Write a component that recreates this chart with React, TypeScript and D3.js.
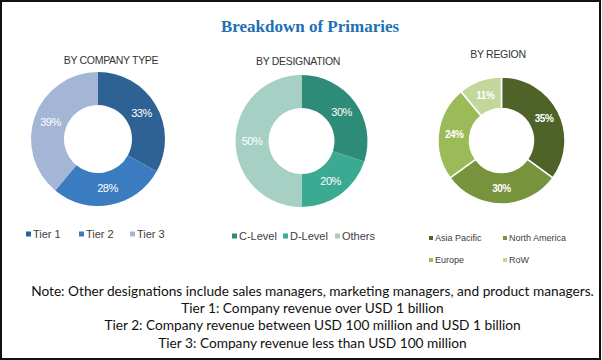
import React, { useEffect, useRef } from 'react';
import * as d3 from 'd3';

const companyTypes = ['Tier 1', 'Tier 2', 'Tier 3'];
const companyShares = [33, 28, 39];
const companyColors = ['#2e6194', '#3b7bbf', '#a3b6d6'];

const designations = ['C-Level', 'D-Level', 'Others'];
const designationShares = [30, 20, 50];
const designationColors = ['#2e8b78', '#3baa93', '#a7d0c5'];

const regions = ['Asia Pacific', 'North America', 'Europe', 'RoW'];
const regionShares = [35, 30, 24, 11];
const regionColors = ['#4f6228', '#77933c', '#9bbb59', '#c3d69b'];

const noteLines = [
  'Note: Other designations include sales managers, marketing managers, and product managers.',
  'Tier 1: Company revenue over USD 1 billion',
  'Tier 2: Company revenue between USD 100 million and USD 1 billion',
  'Tier 3: Company revenue less than USD 100 million',
];

const W = 602;
const H = 360;

const App = () => {
  const ref = useRef(null);

  useEffect(() => {
    const svg = d3.select(ref.current);
    svg.selectAll('*').remove();

    svg
      .append('rect')
      .attr('x', 1)
      .attr('y', 1)
      .attr('width', W - 3)
      .attr('height', H - 2)
      .attr('fill', '#fff')
      .attr('stroke', '#111')
      .attr('stroke-width', 2);

    svg
      .append('text')
      .attr('x', 310)
      .attr('y', 32)
      .attr('text-anchor', 'middle')
      .attr('font-family', '"Liberation Serif", serif')
      .attr('font-weight', 'bold')
      .attr('font-size', 17)
      .attr('fill', '#2170b4')
      .text('Breakdown of Primaries');

    const pies = [
      {
        title: 'BY COMPANY TYPE', tx: 111, ty: 64, cx: 98, cy: 139, r: 67, ir: 34,
        names: companyTypes, values: companyShares, colors: companyColors,
        bold: false, sep: false,
      },
      {
        title: 'BY DESIGNATION', tx: 298, ty: 65, cx: 301.5, cy: 141, r: 66, ir: 33,
        names: designations, values: designationShares, colors: designationColors,
        bold: false, sep: false,
      },
      {
        title: 'BY REGION', tx: 498, ty: 58, cx: 501.5, cy: 140.5, r: 63.5, ir: 32,
        names: regions, values: regionShares, colors: regionColors,
        bold: true, sep: true,
      },
    ];

    pies.forEach((p) => {
      svg
        .append('text')
        .attr('x', p.tx)
        .attr('y', p.ty)
        .attr('text-anchor', 'middle')
        .attr('font-family', '"Liberation Sans", Arial, sans-serif')
        .attr('font-size', 10.5)
        .attr('letter-spacing', -0.3)
        .attr('fill', '#333')
        .text(p.title);

      const pie = d3.pie().sort(null).value((d) => d);
      const arc = d3.arc().innerRadius(p.ir).outerRadius(p.r);
      const g = svg.append('g').attr('transform', `translate(${p.cx},${p.cy})`);
      const arcs = pie(p.values);

      g.selectAll('path')
        .data(arcs)
        .enter()
        .append('path')
        .attr('d', arc)
        .attr('fill', (d, i) => p.colors[i])
        .attr('stroke', p.sep ? '#fff' : 'none')
        .attr('stroke-width', p.sep ? 1.5 : 0);

      g.selectAll('text')
        .data(arcs)
        .enter()
        .append('text')
        .attr('transform', (d) => `translate(${arc.centroid(d)})`)
        .attr('text-anchor', 'middle')
        .attr('dy', '0.35em')
        .attr('font-family', '"Liberation Sans", Arial, sans-serif')
        .attr('font-size', p.bold ? 10 : 11)
        .attr('font-weight', p.bold ? 'bold' : 'normal')
        .attr('letter-spacing', -0.5)
        .attr('fill', '#fff')
        .text((d) => `${d.data}%`);
    });

    // legends
    const legend = (names, colors, spots, size, fontSize) => {
      names.forEach((n, i) => {
        const [x, y] = spots[i];
        svg
          .append('rect')
          .attr('x', x)
          .attr('y', y - size / 2)
          .attr('width', size)
          .attr('height', size)
          .attr('fill', colors[i]);
        svg
          .append('text')
          .attr('x', x + size + 2)
          .attr('y', y)
          .attr('dy', '0.35em')
          .attr('font-family', '"Liberation Sans", Arial, sans-serif')
          .attr('font-size', fontSize)
          .attr('fill', '#404040')
          .text(n);
      });
    };
    legend(companyTypes, companyColors, [[26, 234], [79, 234], [130, 234]], 5, 11);
    legend(designations, designationColors, [[232, 236], [283, 236], [335, 236]], 5, 11);
    legend(regions, regionColors, [[429, 238], [503, 238], [429, 260], [503, 260]], 4, 9);

    // notes: size the font so the first line spans ~563px like the reference
    const notes = noteLines.map((t, i) =>
      svg
        .append('text')
        .attr('x', 312.5)
        .attr('y', 291 + i * 17.3)
        .attr('dy', '0.35em')
        .attr('text-anchor', 'middle')
        .attr('font-family', 'Lato, sans-serif')
        .attr('font-size', 13.5)
        .attr('fill', '#111')
        .text(t)
    );
    const len = notes[0].node().getComputedTextLength();
    if (len > 0) {
      const fs = (13.5 * 563) / len;
      notes.forEach((n) => n.attr('font-size', fs));
    }
  }, []);

  return (
    <svg
      ref={ref}
      width={W}
      height={H}
      style={{ position: 'absolute', left: 0, top: 0, display: 'block' }}
    />
  );
};

export default App;
